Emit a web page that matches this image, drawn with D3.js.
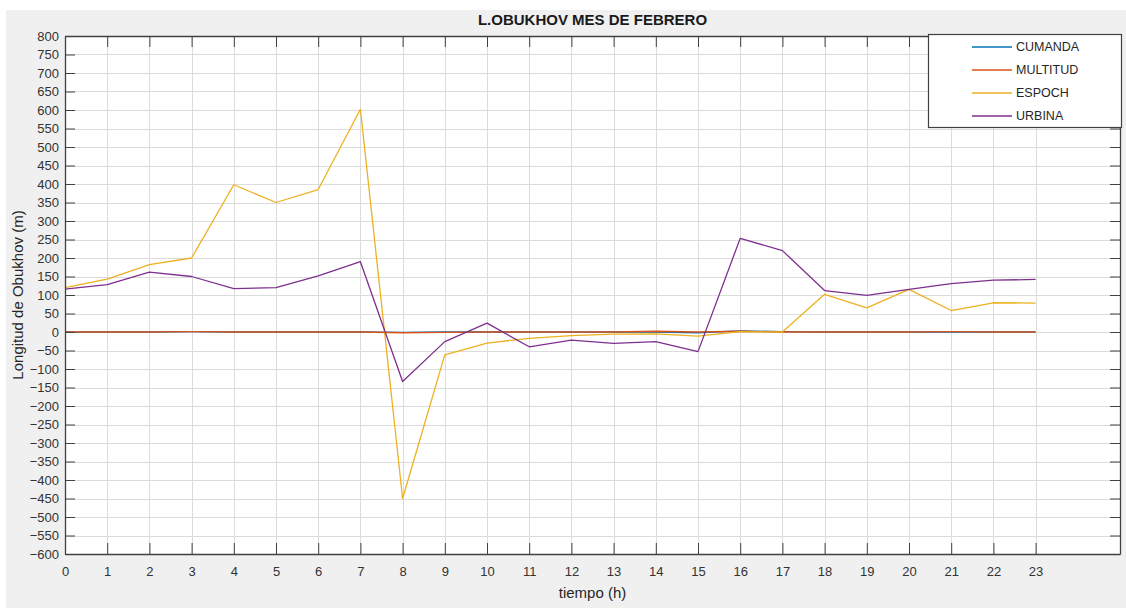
<!DOCTYPE html>
<html>
<head>
<meta charset="utf-8">
<script src="https://cdn.jsdelivr.net/npm/d3@7"></script>
<style>
  html, body { margin: 0; padding: 0; background: #ffffff; }
  svg { display: block; font-family: "Liberation Sans", Arial, Helvetica, sans-serif; }
</style>
</head>
<body>
<svg id="chart" width="1126" height="608"></svg>
<script>
// ---- data ----
const hours = d3.range(0, 24);
const xTicks = d3.range(0, 24);
const yTicks = d3.range(-600, 801, 50);
const seriesNames = ["CUMANDA", "MULTITUD", "ESPOCH", "URBINA"];
const seriesColors = ["#0072BD", "#D95319", "#EDB120", "#7E2F8E"];
const cumanda  = [0, 0, 0, 1, 0, 0, 0, 0, -1, 0, 0, 0, 0, 0, 0, -2, 3, 1, 0, 0, 0, 0, 0, 0];
const multitud = [0, 0, 0, 1, 0, 0, 0, 0, -2, -1, 0, 0, 0, 0, 2, 0, 2, 0, 0, 0, 0, 1, 0, 0];
const espoch   = [120, 143, 182, 200, 398, 350, 385, 602, -450, -62, -30, -17, -10, -6, -5, -11, 1, 0, 102, 65, 115, 58, 79, 78];
const urbina   = [116, 128, 162, 150, 117, 120, 152, 190, -134, -26, 24, -40, -22, -31, -26, -53, 253, 220, 112, 99, 115, 131, 140, 142];
const seriesValues = [cumanda, multitud, espoch, urbina];

const titleText = "L.OBUKHOV MES DE FEBRERO";
const xLabelText = "tiempo (h)";
const yLabelText = "Longitud de Obukhov (m)";

// ---- layout ----
const svg = d3.select("#chart");
const W = 1126, H = 608;
const plot = { left: 65, right: 1120, top: 36, bottom: 554 };

svg.append("rect").attr("x", 6).attr("y", 10).attr("width", W - 6).attr("height", H - 10).attr("fill", "#f0f0f0");

const x = d3.scaleLinear().domain([0, 25]).range([plot.left, plot.right]);
const y = d3.scaleLinear().domain([-600, 800]).range([plot.bottom, plot.top]);

svg.append("rect").attr("x", plot.left).attr("y", plot.top)
  .attr("width", plot.right - plot.left).attr("height", plot.bottom - plot.top).attr("fill", "#ffffff");

// grid
const grid = svg.append("g").attr("stroke", "#dcdcdc").attr("stroke-width", 1);
grid.selectAll("line.gx").data(xTicks).join("line")
  .attr("x1", d => Math.round(x(d)) + 0.5).attr("x2", d => Math.round(x(d)) + 0.5)
  .attr("y1", plot.top).attr("y2", plot.bottom);
grid.selectAll("line.gy").data(yTicks).join("line")
  .attr("y1", d => Math.round(y(d)) + 0.5).attr("y2", d => Math.round(y(d)) + 0.5)
  .attr("x1", plot.left).attr("x2", plot.right);

// lines
const line = d3.line().x((d, i) => x(hours[i])).y(d => y(d));
const linesG = svg.append("g");
seriesValues.forEach((vals, k) => {
  linesG.append("path").datum(vals)
    .attr("d", line).attr("fill", "none")
    .attr("stroke", seriesColors[k]).attr("stroke-width", 1.3)
    .attr("stroke-linejoin", "round");
});

// axes
const axisColor = "#404040";
const tickColor = "#333333";
const fontTick = 13;

const xAxisB = d3.axisBottom(x).tickValues(xTicks).tickSizeInner(-11).tickSizeOuter(0).tickPadding(18).tickFormat(d3.format("d"));
const gxb = svg.append("g").attr("transform", `translate(0,${plot.bottom})`).call(xAxisB);
const xAxisT = d3.axisTop(x).tickValues(xTicks).tickSizeInner(-11).tickSizeOuter(0).tickFormat("");
const gxt = svg.append("g").attr("transform", `translate(0,${plot.top})`).call(xAxisT);
const yAxisL = d3.axisLeft(y).tickValues(yTicks).tickSizeInner(-10).tickSizeOuter(0).tickPadding(6).tickFormat(d3.format("d"));
const gyl = svg.append("g").attr("transform", `translate(${plot.left},0)`).call(yAxisL);
const yAxisR = d3.axisRight(y).tickValues(yTicks).tickSizeInner(-10).tickSizeOuter(0).tickFormat("");
const gyr = svg.append("g").attr("transform", `translate(${plot.right},0)`).call(yAxisR);

[gxb, gxt, gyl, gyr].forEach(g => {
  g.select(".domain").attr("stroke", axisColor).attr("stroke-width", 1.3);
  g.selectAll(".tick line").attr("stroke", axisColor).attr("stroke-width", 1);
  g.selectAll(".tick text").attr("fill", tickColor).attr("font-size", fontTick)
    .attr("font-family", "'Liberation Sans', Arial, sans-serif");
});
gxb.selectAll(".tick text").attr("dy", "0.32em");

// title & labels
svg.append("text").attr("x", (plot.left + plot.right) / 2).attr("y", 25)
  .attr("text-anchor", "middle").attr("font-size", 15).attr("font-weight", "bold")
  .attr("fill", "#1a1a1a").text(titleText);
svg.append("text").attr("x", (plot.left + plot.right) / 2).attr("y", 598)
  .attr("text-anchor", "middle").attr("font-size", 15).attr("fill", "#262626").text(xLabelText);
svg.append("text").attr("transform", `translate(23,${(plot.top + plot.bottom) / 2}) rotate(-90)`)
  .attr("text-anchor", "middle").attr("font-size", 15).attr("fill", "#262626").text(yLabelText);

// legend
const lg = svg.append("g");
lg.append("rect").attr("x", 928.5).attr("y", 34.5).attr("width", 193).attr("height", 93)
  .attr("fill", "#ffffff").attr("stroke", "#404040").attr("stroke-width", 1.2);
seriesNames.forEach((name, k) => {
  const yy = 47 + k * 23;
  lg.append("line").attr("x1", 972).attr("x2", 1012).attr("y1", yy).attr("y2", yy)
    .attr("stroke", seriesColors[k]).attr("stroke-width", 1.3);
  lg.append("text").attr("x", 1016).attr("y", yy).attr("dy", "0.35em")
    .attr("font-size", 12.5).attr("fill", "#262626").text(name);
});
</script>
</body>
</html>
